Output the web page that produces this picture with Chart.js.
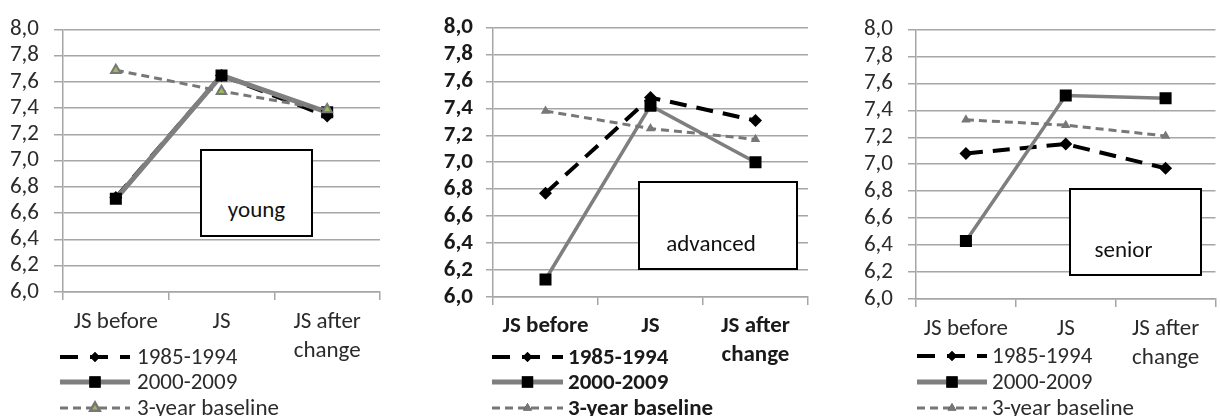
<!DOCTYPE html>
<html>
<head>
<meta charset="utf-8">
<script src="https://cdn.jsdelivr.net/npm/chart.js@4.4.1/dist/chart.umd.min.js"></script>
<style>
  html, body { margin:0; padding:0; background:#fff; width:1220px; height:416px; overflow:hidden; }
  .panel { position:absolute; top:0; height:416px; }
  .box { position:absolute; background:#fff; border:2px solid #000; box-sizing:border-box;
         font-family:"Carlito","Open Sans",sans-serif; font-size:23px; color:#111; line-height:27px; }
  .box span { position:absolute; left:0; right:0; text-align:center; }
</style>
</head>
<body>
<div class="panel" style="left:0px;width:400px"><canvas id="c1" width="400" height="416"></canvas></div>
<div class="panel" style="left:400px;width:420px"><canvas id="c2" width="420" height="416"></canvas></div>
<div class="panel" style="left:820px;width:404px"><canvas id="c3" width="404" height="416"></canvas></div>
<div class="box" style="left:200px;top:149px;width:113px;height:88px"><span style="top:45px">young</span></div>
<div class="box" style="left:638px;top:181px;width:160px;height:89px"><span style="top:47px;left:-14px">advanced</span></div>
<div class="box" style="left:1069px;top:188px;width:133px;height:88px"><span style="top:46px;left:-24px">senior</span></div>
<script>
// ---- data ----
const categories = ["JS before", "JS", ["JS after", "change"]];
const seriesNames = ["1985-1994", "2000-2009", "3-year baseline"];
const yMin = 6.0, yMax = 8.0, yStep = 0.2;

const young1985 = [6.72, 7.65, 7.34];
const young2000 = [6.71, 7.65, 7.37];
const youngBase = [7.69, 7.53, 7.39];

const adv1985 = [6.77, 7.48, 7.31];
const adv2000 = [6.13, 7.42, 7.00];
const advBase = [7.38, 7.25, 7.17];

const sen1985 = [7.08, 7.15, 6.97];
const sen2000 = [6.43, 7.51, 7.49];
const senBase = [7.33, 7.29, 7.21];

// ---- styling / layout ----
const FONT = '"Carlito","Open Sans",sans-serif';
const gridColor = '#a6a6a6';

const legendPlugin = {
  id: 'excelLegend',
  afterDraw(chart, args, opts) {
    const ctx = chart.ctx;
    ctx.save();
    chart.data.datasets.forEach((ds, i) => {
      const y = opts.rows[i];
      const x0 = opts.x0, x1 = opts.x1, xm = (x0 + x1) / 2;
      ctx.beginPath();
      ctx.strokeStyle = ds.borderColor;
      ctx.lineWidth = ds.legendWidth || ds.borderWidth;
      ctx.setLineDash(ds.legendDash || ds.borderDash || []);
      ctx.lineCap = 'butt';
      ctx.moveTo(x0, y); ctx.lineTo(x1, y);
      ctx.stroke();
      ctx.setLineDash([]);
      Chart.helpers.drawPoint(ctx, {
        pointStyle: ds.pointStyle, radius: ds.legendRadius || ds.pointRadius, rotation: 0, borderWidth: ds.pointBorderWidth
      }, xm, y);
      ctx.fillStyle = ds.pointBackgroundColor;
      ctx.strokeStyle = ds.pointBorderColor;
      ctx.lineWidth = ds.pointBorderWidth;
      ctx.fill();
      if (ds.pointBorderWidth > 0) ctx.stroke();
      ctx.fillStyle = opts.color;
      ctx.font = opts.font;
      ctx.textBaseline = 'middle';
      ctx.textAlign = 'left';
      ctx.fillText(ds.label, opts.textX, y + 1);
    });
    ctx.restore();
  }
};

function makeChart(id, p, d1985, d2000, dBase) {
  const fnt = { family: FONT, size: p.fontSize, weight: p.weight, lineHeight: p.lineHeight };
  const H = 416, W = p.width;
  return new Chart(document.getElementById(id), {
    type: 'line',
    data: {
      labels: categories,
      datasets: [
        { label: seriesNames[0], data: d1985, borderColor: '#000', borderWidth: 4, borderDash: [17, 10],
          pointStyle: 'rectRot', pointRadius: 6.5, pointBackgroundColor: '#000', pointBorderColor: '#000', pointBorderWidth: 0,
          legendDash: [18, 12], legendRadius: 5, order: 3 },
        { label: seriesNames[1], data: d2000, borderColor: '#7f7f7f', borderWidth: p.w2000, borderDash: [],
          pointStyle: 'rect', pointRadius: 8.5, pointBackgroundColor: '#000', pointBorderColor: '#000', pointBorderWidth: 0,
          legendWidth: 5, legendRadius: 8, order: 2 },
        { label: seriesNames[2], data: dBase, borderColor: '#777', borderWidth: 3, borderDash: [8, 5],
          pointStyle: 'triangle', pointRadius: 5.5, pointBackgroundColor: p.triFill, pointBorderColor: '#777', pointBorderWidth: p.triBorder,
          legendDash: [8, 5], legendRadius: 5, order: 1 }
      ]
    },
    options: {
      responsive: false, animation: false, events: [],
      layout: { padding: { top: p.t, right: W - p.r, bottom: 0, left: 0 } },
      plugins: {
        legend: { display: false }, tooltip: { enabled: false },
        excelLegend: { rows: p.rows, x0: p.lx0, x1: p.lx1, textX: p.textX, color: p.color,
          font: `${p.weight} ${p.fontSize}px ${FONT}` }
      },
      scales: {
        x: {
          type: 'category', offset: true,
          grid: { offset: true, drawOnChartArea: false, tickLength: 8, color: gridColor, lineWidth: 1.5 },
          border: { display: true, color: gridColor, width: 1.5 },
          ticks: { font: fnt, color: p.color, padding: p.xPad, maxRotation: 0, autoSkip: false },
          afterFit(s) { s.height = H - p.b; }
        },
        y: {
          min: yMin, max: yMax,
          ticks: { stepSize: yStep, padding: p.yPad, font: fnt, color: p.color, autoSkip: false,
                   callback: v => Number(v).toFixed(1).replace('.', ',') },
          grid: { color: gridColor, tickLength: p.yTick, lineWidth: 1.5 },
          border: { display: true, color: gridColor, width: 1.5 },
          afterFit(s) { s.width = p.l; }
        }
      }
    },
    plugins: [legendPlugin]
  });
}

makeChart('c1', { width: 400, l: 63, r: 380, t: 23, b: 292, fontSize: 23, weight: 'normal', lineHeight: 1.26,
  color: '#2b2b2b', xPad: 8, yPad: 15, yTick: 9, w2000: 5, triFill: '#9bbb59', triBorder: 2,
  rows: [357, 382, 408], lx0: 60, lx1: 130, textX: 137 }, young1985, young2000, youngBase);

makeChart('c2', { width: 420, l: 93, r: 408, t: 23, b: 297, fontSize: 23, weight: 'bold', lineHeight: 1.26,
  color: '#1a1a1a', xPad: 7, yPad: 13, yTick: 7, w2000: 3.5, triFill: '#777', triBorder: 0,
  rows: [357, 382, 408], lx0: 92, lx1: 163, textX: 168 }, adv1985, adv2000, advBase);

makeChart('c3', { width: 404, l: 96, r: 403.5, t: 26, b: 299, fontSize: 23, weight: 'normal', lineHeight: 1.26,
  color: '#2b2b2b', xPad: 8, yPad: 15, yTick: 8, w2000: 3.5, triFill: '#777', triBorder: 0,
  rows: [356, 382, 408], lx0: 97, lx1: 167, textX: 172 }, sen1985, sen2000, senBase);
</script>
</body>
</html>
